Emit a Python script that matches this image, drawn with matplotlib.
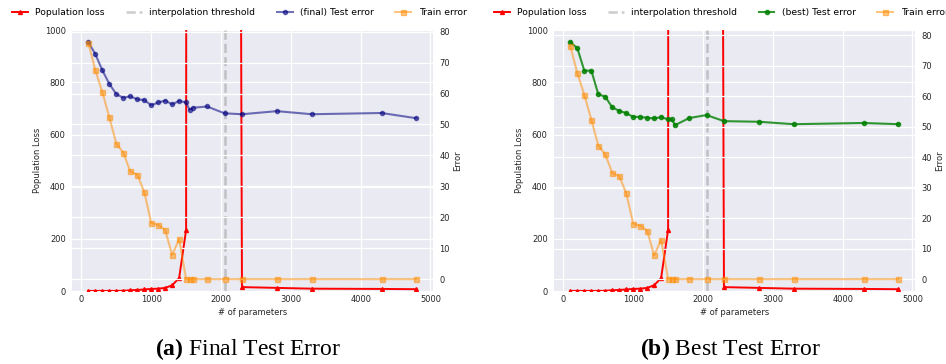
import numpy as np
import matplotlib
matplotlib.use("Agg")
import matplotlib.pyplot as plt

# Data
params = [100, 200, 300, 400, 500, 600, 700, 800, 900, 1000, 1100, 1200, 1300,
          1400, 1500, 1550, 1600, 1800, 2050, 2300, 2800, 3300, 4300, 4800]
pop_loss = [0.5, 0.5, 0.5, 0.5, 0.5, 1, 3, 4, 6, 8, 9, 12, 22, 50, 235,
            30000, 60000, 50000, 20000, 15, 12, 9, 8, 7]
train_err = [76.3, 67.5, 60.4, 52.3, 43.8, 40.9, 34.8, 33.8, 28.2, 18.2, 17.5, 15.9,
             7.8, 12.9, 0, 0, 0, 0, 0, 0, 0, 0, 0, 0]
test_final = [76.6, 72.7, 67.5, 63.1, 59.8, 58.6, 59.1, 58.1, 57.9, 56.2, 57.1, 57.7,
              56.5, 57.6, 57.1, 54.7, 55.4, 55.8, 53.6, 53.3, 54.3, 53.3, 53.7, 52.0]
test_best = [77.7, 75.7, 68.3, 68.4, 60.6, 59.8, 56.3, 55.2, 54.4, 53.2, 53.2, 52.9,
             52.7, 53.1, 52.4, 52.4, 50.5, 52.8, 53.8, 51.8, 51.6, 50.8, 51.2, 50.8]
interp_threshold = 2050

panels = [
    ("(final) Test error", test_final, "navy", 0.55, "a", "Final Test Error"),
    ("(best) Test error", test_best, "green", 0.8, "b", "Best Test Error"),
]

# darkgrid-like style
plt.rcParams.update({
    "font.family": "DejaVu Sans",
    "font.size": 6,
    "axes.facecolor": "#EAEAF2",
    "axes.edgecolor": "white",
    "axes.grid": True,
    "grid.color": "white",
    "grid.linewidth": 0.9,
    "axes.labelcolor": ".15",
    "xtick.color": ".15",
    "ytick.color": ".15",
    "xtick.major.size": 0,
    "ytick.major.size": 0,
    "xtick.major.pad": 3,
    "ytick.major.pad": 4.5,
    "mathtext.fontset": "custom",
    "mathtext.bf": "Liberation Serif:bold",
    "mathtext.rm": "Liberation Serif",
})

fig = plt.figure(figsize=(9.46, 3.64), dpi=100)
lefts = [0.0761, 0.5856]
caption_x = [0.2627, 0.7717]

for i, (test_name, test_vals, test_color, test_alpha, tag, title) in enumerate(panels):
    ax = fig.add_axes([lefts[i], 0.2005, 0.3815, 0.7163])
    for s in ax.spines.values():
        s.set_visible(False)
    l1, = ax.plot(params, pop_loss, color="red", marker="^", markersize=2.8,
                  linewidth=1.4, label="Population loss")
    l2 = ax.axvline(interp_threshold, color="gray", alpha=0.4, linestyle="--",
                    linewidth=1.8, label="interpolation threshold")
    ax.set_ylim(0, 1000)
    ax.set_xticks([0, 1000, 2000, 3000, 4000, 5000])
    ax.set_xlabel("# of parameters", labelpad=3)
    ax.set_ylabel("Population Loss", labelpad=2)

    ax2 = ax.twinx()
    for s in ax2.spines.values():
        s.set_visible(False)
    l3, = ax2.plot(params, test_vals, color=test_color, alpha=test_alpha, marker="o",
                   markersize=3.0, linewidth=1.5, label=test_name)
    l4, = ax2.plot(params, train_err, color="darkorange", alpha=0.5, marker="s",
                   markersize=3.6, linewidth=1.5, label="Train error")
    ax2.set_yticks([0, 10, 20, 30, 40, 50, 60, 70, 80])
    ax2.set_ylabel("Error", labelpad=2.5)

    ax.legend(handles=[l1, l2, l3, l4], loc="center", bbox_to_anchor=(0.463, 1.069),
              ncol=4, frameon=False, fontsize=6.7, columnspacing=2.3, handlelength=1.7)

    fig.text(caption_x[i], 0.041, r"$\mathbf{(" + tag + ")}$ " + title,
             family="Liberation Serif", fontsize=17, ha="center", va="center")

fig.savefig("out.png", dpi=100)
